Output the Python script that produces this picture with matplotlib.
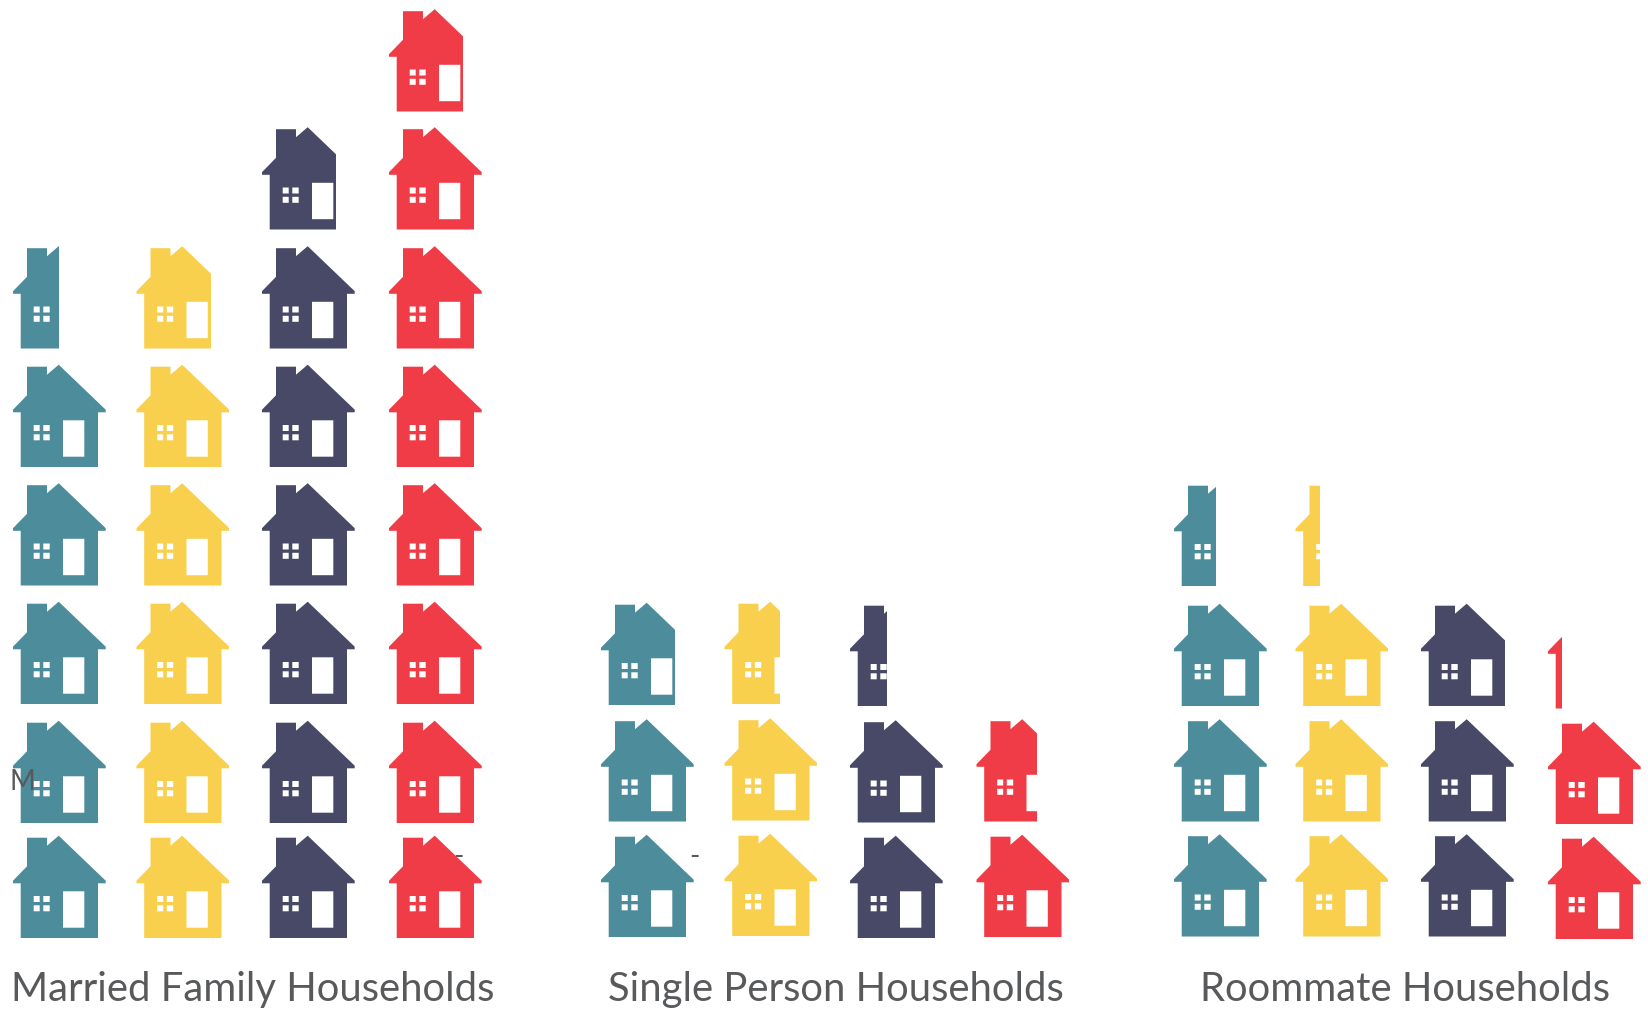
import matplotlib
matplotlib.use("Agg")
import matplotlib.pyplot as plt
from matplotlib.path import Path
from matplotlib.patches import PathPatch, Rectangle
from matplotlib.transforms import Affine2D

# Houses per household type, one value per segment
categories = ["Married Family Households", "Single Person Households", "Roommate Households"]
segment_colors = ["#4C8C9B", "#F9CF4E", "#474966", "#F03C46"]
married_values = [5.5, 5.8, 6.8, 7.8]
single_values = [2.8, 2.6, 2.4, 1.65]
roommate_values = [3.45, 3.26, 2.9, 2.15]
group_values = [married_values, single_values, roommate_values]

# Pictogram layout, in pixels
COLUMN_LEFTS = [
    [13, 136.5, 262, 389],
    [601, 724.5, 850, 976.5],
    [1174, 1295.5, 1421, 1548],
]
ROW_BOTTOMS = [
    [938, 823, 704, 585.5, 467, 348.5, 229.5, 111.5],
    [937, 821.5, 705],
    [936.5, 821.5, 706, 586],
]
COLUMN_NUDGES = [
    [0, 0, 0, 0],
    [0, -1, 1, 0],
    [0, 0, 0, 2.5],
]
LABEL_CENTERS = [253, 836, 1405]
HOUSE_WIDTH = 93
GRAY = "#58595B"


def rect_ring(x0, y0, x1, y1):
    # Clockwise ring, so that it cuts a hole in the counter-clockwise outline
    return [(x0, y0), (x0, y1), (x1, y1), (x1, y0), (x0, y0)]


def house_path():
    outline = [
        (7.7, 0), (85, 0), (85, 54.7), (92.7, 54.7), (92.7, 57.3), (45.7, 102.3),
        (34, 92.3), (34, 100.3), (14, 100.3), (14, 71.7), (0, 57.3), (0, 54.7),
        (7.7, 54.7), (7.7, 0),
    ]
    rings = [outline, rect_ring(50, 10.3, 71.3, 46.7)]
    for wx0, wx1 in [(20.7, 26.7), (30.3, 36.7)]:
        for wy0, wy1 in [(26.7, 32.7), (36, 42)]:
            rings.append(rect_ring(wx0, wy0, wx1, wy1))
    verts, codes = [], []
    for ring in rings:
        verts += ring
        codes += [Path.MOVETO] + [Path.LINETO] * (len(ring) - 2) + [Path.CLOSEPOLY]
    return Path(verts, codes)


HOUSE = house_path()

fig = plt.figure(figsize=(16.48, 10.13), dpi=100, facecolor="white")
ax = fig.add_axes([0, 0, 1, 1])
ax.set_xlim(0, 1648)
ax.set_ylim(1013, 0)
ax.axis("off")

for g, values in enumerate(group_values):
    for c, value in enumerate(values):
        left = COLUMN_LEFTS[g][c]
        whole = int(value)
        fraction = value - whole
        count = whole + (1 if fraction > 0 else 0)
        for row in range(count):
            bottom = ROW_BOTTOMS[g][row] + COLUMN_NUDGES[g][c]
            placed = Affine2D().scale(1, -1).translate(left, bottom) + ax.transData
            patch = PathPatch(HOUSE, facecolor=segment_colors[c], edgecolor="none",
                              transform=placed, zorder=3)
            ax.add_patch(patch)
            share = fraction if row == whole else 1
            # Partial houses are cut off at the share of their width
            clip = Rectangle((left, bottom - 110), share * HOUSE_WIDTH, 115,
                             transform=ax.transData)
            patch.set_clip_path(clip)

for name, cx in zip(categories, LABEL_CENTERS):
    ax.text(cx, 1001, name, ha="center", va="baseline", family="Lato",
            fontsize=28.8, color=GRAY, zorder=5)

# Axis remnants left around the first houses
ax.text(22, 790, "M", ha="center", va="baseline", family="Lato", fontsize=20,
        color=GRAY, zorder=5)
ax.text(458, 865, "-", ha="center", va="baseline", family="Lato", fontsize=20,
        color=GRAY, zorder=1)
ax.text(694, 865, "-", ha="center", va="baseline", family="Lato", fontsize=20,
        color=GRAY, zorder=1)

fig.savefig("out.png", dpi=100, facecolor="white")
